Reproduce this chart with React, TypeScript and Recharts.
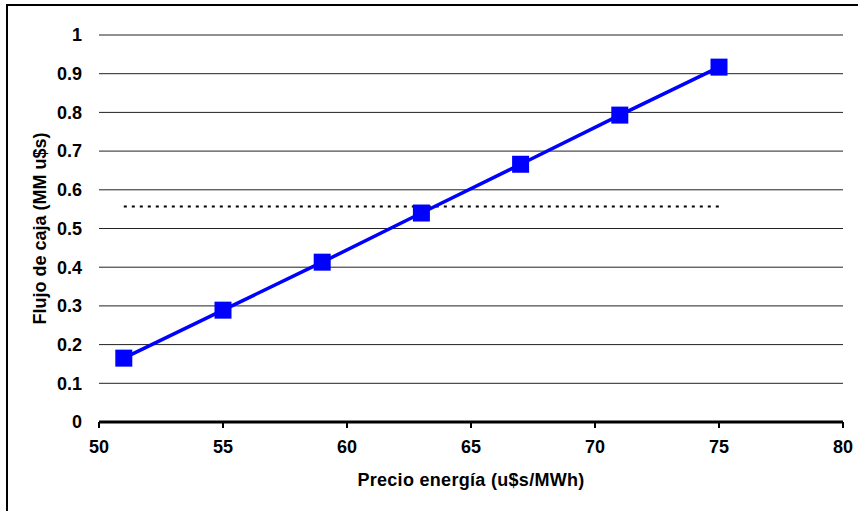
import React from 'react';
import { LineChart, Line, XAxis, YAxis, CartesianGrid } from 'recharts';

const precios = [51, 55, 59, 63, 67, 71, 75];
const flujo = [0.165, 0.289, 0.413, 0.54, 0.666, 0.793, 0.917];
const nivelPunteado = 0.557;

const xTicks = [50, 55, 60, 65, 70, 75, 80];
const yTicks = [0, 0.1, 0.2, 0.3, 0.4, 0.5, 0.6, 0.7, 0.8, 0.9, 1];

const data = precios.map((p, i) => ({ precio: p, flujo: flujo[i], nivel: nivelPunteado }));

const FONT = '"Liberation Sans", Arial, sans-serif';

const SquareDot = (props: any) => {
  const { cx, cy } = props;
  if (cx == null || cy == null) return null;
  return <rect x={cx - 8.5} y={cy - 8.5} width={17} height={17} fill="#0000ff" />;
};

const App: React.FC = () => {
  return (
    <div style={{ position: 'fixed', left: 0, top: 0, width: 858, height: 511, background: '#fff', overflow: 'hidden' }}>
      <div
        style={{
          position: 'absolute',
          left: 6,
          top: 4,
          width: 900,
          height: 600,
          borderLeft: '2px solid #000',
          borderTop: '2px solid #000',
        }}
      />
      <div style={{ position: 'absolute', left: 0, top: 0 }}>
        <LineChart
          width={858}
          height={511}
          data={data}
          margin={{ top: 35, right: 15, bottom: 0, left: 0 }}
          style={{ fontFamily: FONT }}
        >
          <CartesianGrid vertical={false} horizontal stroke="#222" strokeWidth={1} />
          <XAxis
            dataKey="precio"
            type="number"
            domain={[50, 80]}
            ticks={xTicks}
            height={89}
            axisLine={{ stroke: '#000', strokeWidth: 3 }}
            tickLine={{ stroke: '#000', strokeWidth: 2 }}
            tickSize={6}
            tickMargin={12}
            tick={{ fill: '#000', fontSize: 18, fontWeight: 'bold' }}
            label={{ value: 'Precio energía (u$s/MWh)', position: 'insideBottom', offset: 25, fill: '#000', fontSize: 18, fontWeight: 'bold', letterSpacing: 0.3 }}
          />
          <YAxis
            type="number"
            domain={[0, 1]}
            ticks={yTicks}
            width={99}
            axisLine={false}
            tickLine={false}
            tickSize={0}
            tickMargin={17}
            tick={{ fill: '#000', fontSize: 18, fontWeight: 'bold' }}
            label={{ value: 'Flujo de caja (MM u$s)', angle: -90, position: 'insideLeft', offset: 40, fill: '#000', fontSize: 18, fontWeight: 'bold', style: { textAnchor: 'middle' } }}
          />
          <Line
            dataKey="nivel"
            stroke="#000"
            strokeWidth={2}
            strokeDasharray="3 5"
            dot={false}
            isAnimationActive={false}
          />
          <Line
            dataKey="flujo"
            stroke="#0000ff"
            strokeWidth={3.5}
            dot={<SquareDot />}
            activeDot={false}
            isAnimationActive={false}
          />
        </LineChart>
      </div>
    </div>
  );
};

export default App;
